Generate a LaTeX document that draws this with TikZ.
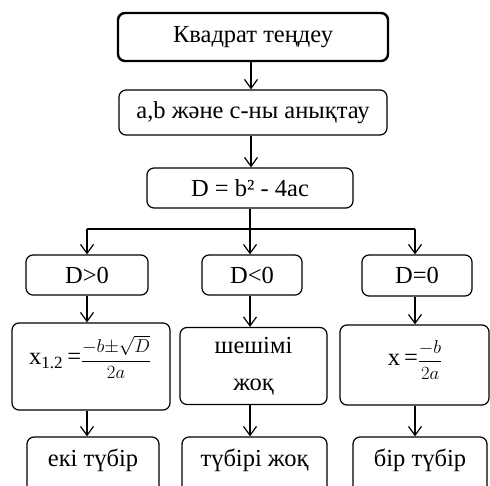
\documentclass[tikz,border=0pt]{standalone}
\usepackage{fontspec}
\setmainfont{Liberation Serif}
\usepackage{amsmath}
\usepackage{graphicx}
\usetikzlibrary{arrows.meta}

\tikzset{
	blok/.style={draw, rounded corners=7pt, line width=1.2pt, inner sep=0pt,
		font=\fontsize{24.5}{29}\selectfont},
	txt/.style={font=\fontsize{24.5}{29}\selectfont},
	arr/.style={line width=1.2pt, -{Straight Barb[length=9pt,width=13pt,line width=1.2pt]}},
	ln/.style={line width=1.2pt}
}
\newcommand{\kvfrac}[2]{\raisebox{-1pt}{\scalebox{0.75}{$\dfrac{#1}{#2}$}}}

\begin{document}
\begin{tikzpicture}[x=1pt,y=-1pt]
	\clip (0,0) rectangle (490,486);
	\fill[white] (0,0) rectangle (490,486);
	% top part
	\node[blok, line width=2.4pt, minimum width=270pt, minimum height=48pt] (kv) at (253,37) {Квадрат теңдеу};
	\node[blok, minimum width=268pt, minimum height=45pt] (abc) at (253,112.5) {a,b және c-ны анықтау};
	\node[blok, minimum width=206pt, minimum height=40pt] (disk) at (250,188) {D = b² - 4ac};
	% branch
	\coordinate (sp) at (250,229);
	\coordinate (spL) at (87,229);
	\coordinate (spR) at (415,229);
	% conditions
	\node[blok, minimum width=122pt, minimum height=40pt] (dpos) at (87,275) {D>0};
	\node[blok, minimum width=100pt, minimum height=40pt] (dneg) at (252,275) {D<0};
	\node[blok, minimum width=110pt, minimum height=41pt] (dnol) at (417,275.5) {D=0};
	% results
	\node[blok, minimum width=158pt, minimum height=87pt] (xpos) at (91,366.5) {};
	\node[txt] at (90,357) {x\textsubscript{1.2}\,=\kvfrac{-b{\pm}\sqrt{D}}{2a}};
	\node[blok, minimum width=147pt, minimum height=77pt, align=center] (xneg) at (253.5,366) {шешімі\\[8pt]жоқ};
	\node[blok, minimum width=149pt, minimum height=80pt] (xnol) at (414.5,365) {};
	\node[txt] at (415,360) {x\,=\kvfrac{-b}{2a}};
	% answers
	\node[blok, minimum width=132pt, minimum height=56pt] (ekitub) at (93,465) {};
	\node[txt] at (93,460) {екі түбір};
	\node[blok, minimum width=145pt, minimum height=56pt] (joq) at (254.5,465) {};
	\node[txt] at (254.5,460) {түбірі жоқ};
	\node[blok, minimum width=134pt, minimum height=56pt] (birtub) at (420,465) {};
	\node[txt] at (420,460) {бір түбір};
	% arrows
	\draw[arr] (kv.south -| 251,0) -- (abc.north -| 251,0);
	\draw[arr] (abc.south -| 251,0) -- (disk.north -| 251,0);
	\draw[ln] (disk.south) -- (sp);
	\draw[ln] (spL) -- (spR);
	\draw[arr] (spL) -- (spL |- dpos.north);
	\draw[arr] (sp) -- (sp |- dneg.north);
	\draw[arr] (spR) -- (spR |- dnol.north);
	\draw[arr] (dpos.south -| spL) -- (spL |- xpos.north);
	\draw[arr] (dneg.south -| sp) -- (sp |- xneg.north);
	\draw[arr] (dnol.south -| spR) -- (spR |- xnol.north);
	\draw[arr] (xpos.south -| spL) -- (spL |- ekitub.north);
	\draw[arr] (xneg.south -| sp) -- (sp |- joq.north);
	\draw[arr] (xnol.south -| spR) -- (spR |- birtub.north);
\end{tikzpicture}
\end{document}
